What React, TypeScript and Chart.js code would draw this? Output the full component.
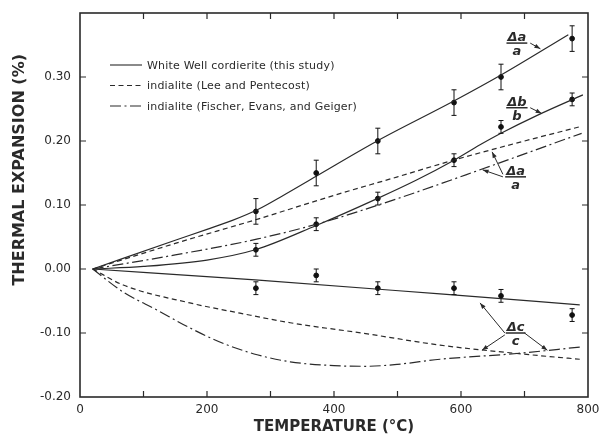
import React, { useEffect, useRef } from 'react';
import { Chart, registerables } from 'chart.js';

Chart.register(...registerables);

// ---------- data ----------
const xMin = 0;
const xMax = 800;
const xStep = 100;
const yMin = -0.2;
const yMax = 0.4;
const yStep = 0.1;

// measured points (White Well cordierite) with error bars
const measT = [277, 372, 469, 589, 663, 775];
const measA = [0.09, 0.15, 0.2, 0.26, 0.3, 0.36];
const errA = [0.02, 0.02, 0.02, 0.02, 0.02, 0.02];
const measB = [0.03, 0.07, 0.11, 0.17, 0.222, 0.265];
const errB = [0.01, 0.01, 0.01, 0.01, 0.01, 0.01];
const measC = [-0.03, -0.01, -0.03, -0.03, -0.042, -0.072];
const errC = [0.01, 0.01, 0.01, 0.01, 0.01, 0.01];

// White Well cordierite (this study) curves
const wwA_T = [20, 150, 200, 240, 280, 320, 372, 468, 588, 663, 769];
const wwA_V = [0, 0.045, 0.062, 0.076, 0.093, 0.115, 0.145, 0.2, 0.262, 0.303, 0.366];
const wwB_T = [20, 100, 200, 276, 372, 468, 530, 589, 630, 663, 720, 792];
const wwB_V = [0, 0.004, 0.014, 0.03, 0.068, 0.11, 0.139, 0.17, 0.194, 0.212, 0.24, 0.272];
const wwC_T = [20, 276, 567, 787];
const wwC_V = [0, -0.017, -0.039, -0.056];

// indialite (Lee and Pentecost)
const leeA_T = [20, 150, 280, 400, 500, 588, 700, 790];
const leeA_V = [0, 0.04, 0.078, 0.115, 0.144, 0.17, 0.2, 0.223];
const leeC_T = [20, 68, 173, 252, 331, 450, 567, 688, 787];
const leeC_V = [0, -0.025, -0.053, -0.069, -0.084, -0.101, -0.119, -0.132, -0.141];

// indialite (Fischer, Evans, and Geiger)
const fisA_T = [20, 150, 280, 383, 500, 630, 790];
const fisA_V = [0, 0.022, 0.047, 0.073, 0.11, 0.155, 0.212];
const fisC_T = [20, 68, 121, 173, 225, 279, 331, 400, 450, 500, 567, 688, 787];
const fisC_V = [0, -0.036, -0.064, -0.092, -0.116, -0.134, -0.145, -0.151, -0.152, -0.149, -0.141, -0.132, -0.122];

const legendLabels = [
  'White Well cordierite (this study)',
  'indialite (Lee and Pentecost)',
  'indialite (Fischer, Evans, and Geiger)',
];

const xTitle = 'TEMPERATURE (°C)';
const yTitle = 'THERMAL EXPANSION (%)';

// fraction labels (data coordinates) with arrows [x1, y1, x2, y2]
const fracLabels = [
  { num: 'Δa', den: 'a', x: 688, y: 0.353, arrows: [[709, 0.353, 725, 0.344]] },
  { num: 'Δb', den: 'b', x: 688, y: 0.252, arrows: [[709, 0.252, 727, 0.243]] },
  { num: 'Δa', den: 'a', x: 686, y: 0.144, arrows: [[666, 0.148, 649, 0.183], [666, 0.144, 634, 0.155]] },
  {
    num: 'Δc', den: 'c', x: 686, y: -0.1,
    arrows: [[669, -0.1, 630, -0.053], [669, -0.103, 633, -0.127], [700, -0.1, 736, -0.127]],
  },
];

const INK = '#2a2a2a';
const FONT = '"DejaVu Sans", sans-serif';

const zip = (xs: number[], ys: number[]) => xs.map((x, i) => ({ x, y: ys[i] }));

const SOLID: number[] = [];
const DASHED = [5, 3.5];
const DASHDOT = [11, 3.5, 2, 3.5];

function curve(label: string, xs: number[], ys: number[], dash: number[]) {
  return {
    type: 'line' as const,
    label,
    data: zip(xs, ys),
    borderColor: INK,
    borderWidth: 1.2,
    borderDash: dash,
    pointRadius: 0,
    fill: false,
    cubicInterpolationMode: 'monotone' as const,
  };
}

function points(label: string, vs: number[]) {
  return {
    type: 'scatter' as const,
    label,
    data: zip(measT, vs),
    backgroundColor: '#111',
    borderColor: '#111',
    pointRadius: 2.4,
    showLine: false,
  };
}

const errorSeries = [
  { v: measA, e: errA },
  { v: measB, e: errB },
  { v: measC, e: errC },
];

const decorPlugin = {
  id: 'decor',
  afterDatasetsDraw(chart: any) {
    const { ctx, chartArea: ca, scales } = chart;
    const xs = scales.x;
    const ys = scales.y;
    ctx.save();
    // error bars
    ctx.strokeStyle = '#111';
    ctx.lineWidth = 1;
    ctx.setLineDash([]);
    errorSeries.forEach((s) => {
      measT.forEach((t, i) => {
        const px = xs.getPixelForValue(t);
        const p1 = ys.getPixelForValue(s.v[i] + s.e[i]);
        const p2 = ys.getPixelForValue(s.v[i] - s.e[i]);
        ctx.beginPath();
        ctx.moveTo(px, p1);
        ctx.lineTo(px, p2);
        ctx.moveTo(px - 2.5, p1);
        ctx.lineTo(px + 2.5, p1);
        ctx.moveTo(px - 2.5, p2);
        ctx.lineTo(px + 2.5, p2);
        ctx.stroke();
      });
    });

    // frame
    ctx.strokeStyle = INK;
    ctx.lineWidth = 1.6;
    ctx.strokeRect(ca.left, ca.top, ca.right - ca.left, ca.bottom - ca.top);

    // inner tick marks on all sides
    ctx.lineWidth = 1.2;
    const tl = 6;
    for (let v = xMin + xStep; v < xMax - 1e-9; v += xStep) {
      const px = xs.getPixelForValue(v);
      ctx.beginPath();
      ctx.moveTo(px, ca.bottom);
      ctx.lineTo(px, ca.bottom - tl);
      ctx.moveTo(px, ca.top);
      ctx.lineTo(px, ca.top + tl);
      ctx.stroke();
    }
    for (let k = 1; k < Math.round((yMax - yMin) / yStep); k++) {
      const v = yMin + k * yStep;
      const py = ys.getPixelForValue(v);
      ctx.beginPath();
      ctx.moveTo(ca.left, py);
      ctx.lineTo(ca.left + tl, py);
      ctx.moveTo(ca.right, py);
      ctx.lineTo(ca.right - tl, py);
      ctx.stroke();
    }

    // y axis title (placed like the original, above centre)
    ctx.save();
    ctx.translate(20, ys.getPixelForValue(0.155));
    ctx.rotate(-Math.PI / 2);
    ctx.font = `bold 16px ${FONT}`;
    ctx.fillStyle = INK;
    ctx.textAlign = 'center';
    ctx.textBaseline = 'middle';
    ctx.fillText(yTitle, 0, 0);
    ctx.restore();

    // legend
    const dashes = [SOLID, DASHED, DASHDOT];
    ctx.font = `11px ${FONT}`;
    (ctx as any).letterSpacing = '0.2px';
    ctx.fillStyle = INK;
    ctx.textBaseline = 'middle';
    ctx.textAlign = 'left';
    legendLabels.forEach((lab, i) => {
      const y = ca.top + 52 + i * 20.5;
      ctx.beginPath();
      ctx.setLineDash(dashes[i]);
      ctx.lineWidth = 1.1;
      ctx.moveTo(ca.left + 30, y);
      ctx.lineTo(ca.left + 62, y);
      ctx.stroke();
      ctx.setLineDash([]);
      ctx.fillText(lab, ca.left + 67, y + 1);
    });
    (ctx as any).letterSpacing = '0px';

    // fraction labels with arrows
    ctx.setLineDash([]);
    fracLabels.forEach((f) => {
      const cx = xs.getPixelForValue(f.x);
      const cy = ys.getPixelForValue(f.y);
      ctx.font = `italic bold 13px ${FONT}`;
      ctx.textAlign = 'center';
      ctx.textBaseline = 'alphabetic';
      ctx.fillStyle = INK;
      const w = ctx.measureText(f.num).width;
      ctx.fillText(f.num, cx, cy - 2);
      ctx.fillText(f.den, cx, cy + 12);
      ctx.lineWidth = 1.5;
      ctx.beginPath();
      ctx.moveTo(cx - w / 2 - 1, cy);
      ctx.lineTo(cx + w / 2 + 1, cy);
      ctx.stroke();
      ctx.lineWidth = 1;
      f.arrows.forEach((a) => {
        const x1 = xs.getPixelForValue(a[0]);
        const y1 = ys.getPixelForValue(a[1]);
        const x2 = xs.getPixelForValue(a[2]);
        const y2 = ys.getPixelForValue(a[3]);
        ctx.beginPath();
        ctx.moveTo(x1, y1);
        ctx.lineTo(x2, y2);
        ctx.stroke();
        const ang = Math.atan2(y2 - y1, x2 - x1);
        const L = 6;
        const W = 2.2;
        ctx.beginPath();
        ctx.moveTo(x2, y2);
        ctx.lineTo(x2 - L * Math.cos(ang) + W * Math.sin(ang), y2 - L * Math.sin(ang) - W * Math.cos(ang));
        ctx.lineTo(x2 - L * Math.cos(ang) - W * Math.sin(ang), y2 - L * Math.sin(ang) + W * Math.cos(ang));
        ctx.closePath();
        ctx.fill();
      });
    });
    ctx.restore();
  },
};

export default function App() {
  const ref = useRef<HTMLCanvasElement | null>(null);

  useEffect(() => {
    document.body.style.margin = '0';
    const canvas = ref.current;
    if (!canvas) return;
    const chart = new Chart(canvas, {
      type: 'line',
      data: {
        datasets: [
          curve('wwA', wwA_T, wwA_V, SOLID),
          curve('wwB', wwB_T, wwB_V, SOLID),
          curve('wwC', wwC_T, wwC_V, SOLID),
          curve('leeA', leeA_T, leeA_V, DASHED),
          curve('leeC', leeC_T, leeC_V, DASHED),
          curve('fisA', fisA_T, fisA_V, DASHDOT),
          curve('fisC', fisC_T, fisC_V, DASHDOT),
          points('ptsA', measA),
          points('ptsB', measB),
          points('ptsC', measC),
        ] as any,
      },
      options: {
        animation: false,
        responsive: false,
        devicePixelRatio: 1,
        layout: { padding: { top: 13, right: 12, left: 0, bottom: 0 } },
        plugins: {
          legend: { display: false },
          tooltip: { enabled: false },
        },
        scales: {
          x: {
            type: 'linear',
            min: xMin,
            max: xMax,
            grid: { display: false, drawTicks: false },
            border: { display: false },
            ticks: {
              stepSize: xStep,
              autoSkip: false,
              maxRotation: 0,
              padding: 6,
              color: INK,
              font: { family: FONT, size: 12 },
              callback: (v: any) => (Math.round(v) % 200 === 0 ? String(Math.round(v)) : ''),
            },
            title: {
              display: true,
              text: xTitle,
              color: INK,
              font: { family: FONT, size: 15, weight: 'bold' },
              padding: { top: 0, bottom: 2 },
            },
            afterFit: (s: any) => {
              s.height = 41;
              s.paddingLeft = 0;
              s.paddingRight = 0;
            },
          },
          y: {
            type: 'linear',
            min: yMin,
            max: yMax,
            grid: { display: false, drawTicks: false },
            border: { display: false },
            ticks: {
              stepSize: yStep,
              padding: 9,
              color: INK,
              font: { family: FONT, size: 12 },
              callback: (v: any) => {
                if (v > 0.35) return '';
                if (Math.abs(v) < 1e-9) return '0.00';
                return Number(v).toFixed(2);
              },
            },
            title: { display: false },
            afterFit: (s: any) => {
              s.width = 80;
              s.paddingTop = 0;
              s.paddingBottom = 0;
            },
          },
        },
      } as any,
      plugins: [decorPlugin],
    });
    return () => chart.destroy();
  }, []);

  return (
    <div style={{ width: 600, height: 438 }}>
      <canvas ref={ref} width={600} height={438} style={{ display: 'block' }} />
    </div>
  );
}
